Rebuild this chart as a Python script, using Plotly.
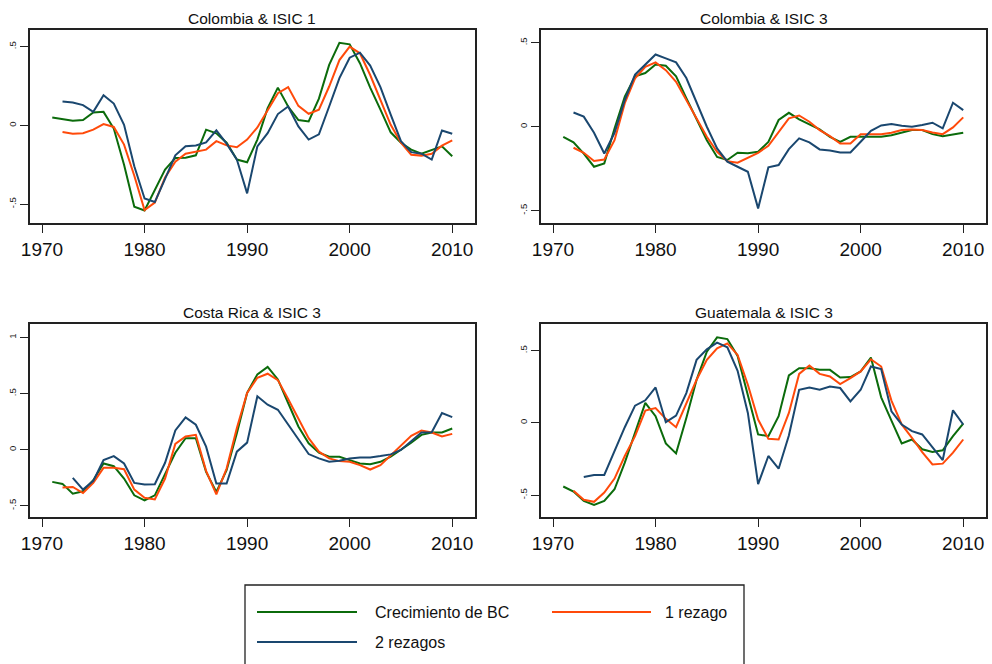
import plotly.graph_objects as go

years_all = list(range(1971, 2011))

# ---- Colombia & ISIC 1 ----
col1_bc = [0.05, 0.042, 0.03, 0.034, 0.082, 0.086, -0.02, -0.25, -0.517, -0.54,
           -0.41, -0.28, -0.207, -0.205, -0.19, -0.027, -0.05, -0.11, -0.217, -0.234,
           -0.09, 0.11, 0.24, 0.12, 0.034, 0.025, 0.17, 0.384, 0.525, 0.515,
           0.395, 0.24, 0.1, -0.044, -0.11, -0.154, -0.18, -0.158, -0.133, -0.196]
col1_r1 = [None, -0.042, -0.053, -0.05, -0.027, 0.008, -0.01, -0.122, -0.32, -0.538,
           -0.49, -0.33, -0.23, -0.18, -0.165, -0.154, -0.10, -0.127, -0.139, -0.09,
           -0.013, 0.1, 0.205, 0.243, 0.124, 0.074, 0.1, 0.247, 0.415, 0.5,
           0.458, 0.32, 0.162, 0.004, -0.11, -0.186, -0.192, -0.18, -0.129, -0.095]
col1_r2 = [None, 0.152, 0.146, 0.129, 0.086, 0.192, 0.139, 0.004, -0.26, -0.464,
           -0.487, -0.34, -0.19, -0.133, -0.127, -0.108, -0.032, -0.116, -0.217, -0.432,
           -0.133, -0.049, 0.072, 0.12, -0.006, -0.09, -0.057, 0.12, 0.3, 0.43,
           0.462, 0.38, 0.243, 0.068, -0.10, -0.17, -0.18, -0.217, -0.032, -0.053]

# ---- Colombia & ISIC 3 ----
col3_bc = [-0.06, -0.093, -0.16, -0.238, -0.218, -0.01, 0.18, 0.30, 0.32, 0.37,
           0.363, 0.30, 0.17, 0.04, -0.08, -0.18, -0.198, -0.155, -0.158, -0.149,
           -0.09, 0.04, 0.083, 0.044, 0.014, -0.016, -0.06, -0.09, -0.06, -0.06,
           -0.06, -0.06, -0.05, -0.036, -0.02, -0.02, -0.044, -0.056, -0.044, -0.036]
col3_r1 = [None, -0.125, -0.155, -0.204, -0.195, -0.08, 0.14, 0.288, 0.357, 0.383,
           0.337, 0.268, 0.159, 0.05, -0.06, -0.149, -0.206, -0.214, -0.183, -0.155,
           -0.113, -0.03, 0.05, 0.067, 0.03, -0.02, -0.056, -0.1, -0.1, -0.044,
           -0.046, -0.044, -0.036, -0.02, -0.016, -0.02, -0.034, -0.044, -0.004, 0.056]
col3_r2 = [None, 0.085, 0.06, -0.036, -0.159, -0.036, 0.159, 0.31, 0.367, 0.43,
           0.407, 0.383, 0.29, 0.14, 0.0, -0.129, -0.208, -0.238, -0.268, -0.486,
           -0.242, -0.228, -0.133, -0.069, -0.093, -0.135, -0.141, -0.153, -0.153, -0.089,
           -0.024, 0.008, 0.016, 0.006, 0.0, 0.01, 0.024, -0.01, 0.143, 0.099]

# ---- Costa Rica & ISIC 3 ----
cri3_bc = [-0.287, -0.305, -0.392, -0.371, -0.272, -0.123, -0.147, -0.257, -0.407, -0.452,
           -0.407, -0.213, -0.027, 0.102, 0.102, -0.198, -0.377, -0.183, 0.147, 0.506,
           0.671, 0.737, 0.626, 0.416, 0.207, 0.057, -0.027, -0.063, -0.063, -0.093,
           -0.123, -0.129, -0.108, -0.063, -0.003, 0.063, 0.132, 0.153, 0.153, 0.189]
cri3_r1 = [None, -0.338, -0.332, -0.386, -0.296, -0.162, -0.162, -0.174, -0.356, -0.428,
           -0.443, -0.257, 0.051, 0.117, 0.132, -0.189, -0.398, -0.168, 0.192, 0.506,
           0.641, 0.677, 0.62, 0.452, 0.272, 0.102, -0.018, -0.078, -0.102, -0.108,
           -0.138, -0.177, -0.138, -0.048, 0.042, 0.123, 0.171, 0.153, 0.117, 0.141]
cri3_r2 = [None, None, -0.251, -0.356, -0.278, -0.093, -0.057, -0.123, -0.296, -0.311,
           -0.308, -0.117, 0.171, 0.287, 0.222, 0.027, -0.302, -0.302, -0.018, 0.063,
           0.476, 0.401, 0.356, 0.228, 0.093, -0.039, -0.078, -0.108, -0.099, -0.078,
           -0.069, -0.069, -0.057, -0.042, -0.003, 0.072, 0.153, 0.156, 0.326, 0.29]

# ---- Guatemala & ISIC 3 ----
gtm3_bc = [-0.44, -0.475, -0.539, -0.567, -0.539, -0.459, -0.275, -0.069, 0.138, 0.046,
           -0.142, -0.211, 0.034, 0.298, 0.493, 0.592, 0.58, 0.463, 0.183, -0.08,
           -0.092, 0.046, 0.328, 0.378, 0.378, 0.367, 0.367, 0.314, 0.317, 0.356,
           0.452, 0.177, 0.016, -0.142, -0.115, -0.183, -0.202, -0.19, -0.092, -0.005]
gtm3_r1 = [None, -0.47, -0.532, -0.546, -0.482, -0.385, -0.229, -0.092, 0.085, 0.103,
           0.028, -0.03, 0.138, 0.298, 0.436, 0.516, 0.55, 0.47, 0.264, 0.023,
           -0.11, -0.115, 0.069, 0.339, 0.397, 0.339, 0.321, 0.268, 0.31, 0.356,
           0.44, 0.39, 0.154, -0.011, -0.103, -0.202, -0.287, -0.282, -0.206, -0.115]
gtm3_r2 = [None, None, -0.374, -0.36, -0.36, -0.195, -0.03, 0.119, 0.156, 0.245,
           0.005, 0.05, 0.206, 0.436, 0.509, 0.555, 0.523, 0.36, 0.069, -0.424,
           -0.229, -0.317, -0.087, 0.229, 0.245, 0.229, 0.252, 0.241, 0.149, 0.229,
           0.39, 0.372, 0.08, -0.011, -0.057, -0.08, -0.172, -0.257, 0.087, -0.011]

panel_titles = ["Colombia & ISIC 1", "Colombia & ISIC 3", "Costa Rica & ISIC 3", "Guatemala & ISIC 3"]
series_names = ["Crecimiento de BC", "1 rezago", "2 rezagos"]
series_colors = ["#0b6b0b", "#ff4a0a", "#1a476f"]
x_ticks = [1970, 1980, 1990, 2000, 2010]

panels = [
    (col1_bc, col1_r1, col1_r2),
    (col3_bc, col3_r1, col3_r2),
    (cri3_bc, cri3_r1, cri3_r2),
    (gtm3_bc, gtm3_r1, gtm3_r2),
]
y_ranges = [[-0.62, 0.606], [-0.573, 0.576], [-0.60, 1.12], [-0.651, 0.684]]
y_tickvals = [[-0.5, 0, 0.5], [-0.5, 0, 0.5], [-0.5, 0, 0.5, 1], [-0.5, 0, 0.5]]
y_ticktext = [["-.5", "0", ".5"], ["-.5", "0", ".5"], ["-.5", "0", ".5", "1"], ["-.5", "0", ".5"]]

W, H = 992, 664
x_domains = [[30 / W, 475 / W], [541 / W, 986 / W], [30 / W, 475 / W], [541 / W, 986 / W]]
y_domains = [[1 - 223 / H, 1 - 30 / H], [1 - 223 / H, 1 - 30 / H],
             [1 - 517 / H, 1 - 324 / H], [1 - 517 / H, 1 - 324 / H]]
title_y = [1 - 18 / H, 1 - 18 / H, 1 - 312 / H, 1 - 312 / H]

fig = go.Figure()
layout = {}
annotations = []
shapes = []
FONT = "Liberation Sans, Arial, Helvetica, sans-serif"

for i, (data, title) in enumerate(zip(panels, panel_titles)):
    n = i + 1
    xa = "x" if n == 1 else f"x{n}"
    ya = "y" if n == 1 else f"y{n}"
    for s, name, color in zip(data, series_names, series_colors):
        fig.add_trace(go.Scatter(x=years_all, y=s, mode="lines", name=name,
                                 line=dict(color=color, width=2), showlegend=False,
                                 xaxis=xa, yaxis=ya, connectgaps=False,
                                 hoverinfo="skip"))
    xkey = "xaxis" if n == 1 else f"xaxis{n}"
    ykey = "yaxis" if n == 1 else f"yaxis{n}"
    layout[xkey] = dict(domain=x_domains[i], anchor=ya, range=[1968.83, 2012.22],
                        tickvals=x_ticks, ticks="outside", ticklen=8, tickwidth=1.3,
                        tickcolor="#222", showgrid=False, zeroline=False, automargin=False,
                        showline=True, mirror=True, linecolor="#222", linewidth=1.5,
                        tickfont=dict(size=19, color="#111", family=FONT))
    layout[ykey] = dict(domain=y_domains[i], anchor=xa, range=y_ranges[i],
                        tickvals=y_tickvals[i], ticktext=y_ticktext[i],
                        ticks="outside", ticklen=8, tickwidth=1.3, tickcolor="#222",
                        tickangle=-90, showgrid=False, zeroline=False, automargin=False,
                        showline=True, mirror=True, linecolor="#222", linewidth=1.5,
                        tickfont=dict(size=9.5, color="#222", family=FONT))
    annotations.append(dict(text=title, x=sum(x_domains[i]) / 2, y=title_y[i],
                            xref="paper", yref="paper", showarrow=False,
                            xanchor="center", yanchor="middle",
                            font=dict(size=15.5, color="#111", family=FONT)))

# legend box (drawn manually to match the reference's placement)
shapes.append(dict(type="rect", xref="paper", yref="paper",
                   x0=245 / W, x1=744 / W, y0=-0.02, y1=1 - 585 / H,
                   line=dict(color="#222", width=1.3), fillcolor="white"))
leg_items = [
    (series_names[0], series_colors[0], 257, 357, 373, 612, "left"),
    (series_names[1], series_colors[1], 552, 651, 729, 612, "right"),
    (series_names[2], series_colors[2], 257, 357, 373, 642, "left"),
]
for name, color, lx0, lx1, tx, ty, anchor in leg_items:
    shapes.append(dict(type="line", xref="paper", yref="paper",
                       x0=lx0 / W, x1=lx1 / W, y0=1 - ty / H, y1=1 - ty / H,
                       line=dict(color=color, width=2)))
    annotations.append(dict(text=name, x=tx / W, y=1 - ty / H, xref="paper", yref="paper",
                            showarrow=False, xanchor=anchor, yanchor="middle",
                            font=dict(size=16, color="#111", family=FONT)))

fig.update_layout(**layout)
fig.update_layout(width=W, height=H, margin=dict(l=0, r=0, t=0, b=0, autoexpand=False),
                  paper_bgcolor="white", plot_bgcolor="white",
                  annotations=annotations, shapes=shapes, showlegend=False)

fig.write_html("out.html", config={"displayModeBar": False},
               post_script="document.body.style.margin='0';document.body.style.overflow='hidden';")
